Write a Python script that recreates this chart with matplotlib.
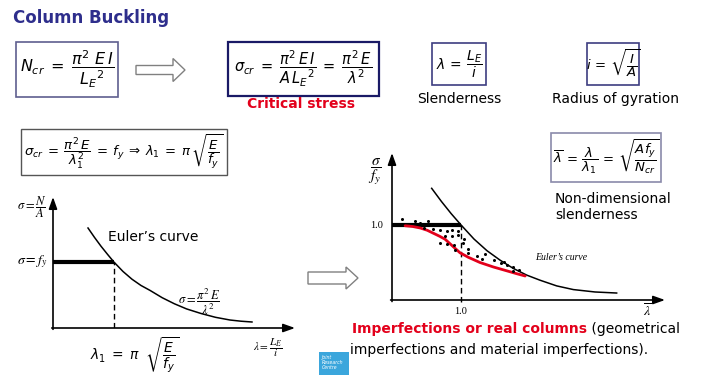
import matplotlib
matplotlib.use('Agg')
import matplotlib.pyplot as plt
from matplotlib.patches import Rectangle, Polygon

W, H = 713, 375

# ---------------- data ----------------
# Left chart: slenderness lambda/lambda1 vs sigma/fy
left_euler_x = [0.574, 0.680, 0.787, 0.893, 1.0, 1.148, 1.295, 1.443, 1.590, 1.790,
                1.990, 2.190, 2.426, 2.664, 2.902, 3.082, 3.262]
left_euler_y = [1.515, 1.373, 1.239, 1.117, 0.998, 0.856, 0.739, 0.644, 0.570, 0.459,
                0.367, 0.289, 0.220, 0.162, 0.121, 0.103, 0.091]
left_plateau_x = [0.0, 1.0]
left_plateau_y = [1.0, 1.0]

# Right chart: non-dimensional slenderness vs sigma/fy
right_euler_x = [0.575, 0.717, 0.858, 1.0, 1.188, 1.377, 1.565, 1.758, 1.952, 2.145,
                 2.387, 2.628, 2.942, 3.256]
right_euler_y = [1.489, 1.313, 1.151, 1.001, 0.813, 0.657, 0.532, 0.421, 0.332, 0.264,
                 0.188, 0.139, 0.107, 0.093]
right_plateau_x = [0.0, 1.0]
right_plateau_y = [1.0, 1.0]
red_x = [0.19, 0.30, 0.41, 0.51, 0.60, 0.69, 0.77, 0.865, 0.985, 1.105, 1.275, 1.47,
         1.66, 1.81, 1.93]
red_y = [0.99, 0.98, 0.96, 0.93, 0.89, 0.85, 0.81, 0.73, 0.63, 0.57, 0.50, 0.44,
         0.39, 0.35, 0.32]
test_x = [0.149, 0.333, 0.406, 0.526, 0.468, 0.599, 0.696, 0.793, 0.874, 0.952,
          0.768, 0.874, 0.961, 0.696, 0.793, 0.903, 0.913, 1.034, 1.048, 1.097,
          1.106, 1.227, 1.300, 1.348, 1.483, 1.58, 1.628, 1.662, 1.758, 1.758, 1.845]
test_y = [1.076, 1.053, 1.031, 1.053, 0.956, 0.943, 0.933, 0.924, 0.933, 0.924,
          0.853, 0.853, 0.867, 0.756, 0.747, 0.733, 0.667, 0.756, 0.809, 0.676,
          0.622, 0.587, 0.542, 0.613, 0.533, 0.489, 0.511, 0.467, 0.444, 0.39, 0.40]
tick_one = "1.0"

TITLE_C = '#2e2e8c'
RED = '#e3001b'

fig = plt.figure(figsize=(W / 100, H / 100), dpi=100)
fig.patch.set_facecolor('white')
bg = fig.add_axes([0, 0, 1, 1])
bg.set_xlim(0, W)
bg.set_ylim(H, 0)
bg.axis('off')


def chart_axes(x0, y0, ux, uy, xmax, ymax):
    ax = fig.add_axes([x0 / W, (H - y0) / H, xmax * ux / W, ymax * uy / H])
    ax.set_xlim(0, xmax)
    ax.set_ylim(0, ymax)
    ax.axis('off')
    ap = dict(arrowstyle='-|>,head_length=0.7,head_width=0.25', color='black',
              lw=1.2, shrinkA=0, shrinkB=0)
    ax.annotate('', xy=(xmax, 0), xytext=(-0.02, 0), arrowprops=ap, annotation_clip=False)
    ax.annotate('', xy=(0, ymax), xytext=(0, -0.02), arrowprops=ap, annotation_clip=False)
    return ax


def box(x, y, w, h, ec, lw=1.2):
    bg.add_patch(Rectangle((x, y), w, h, fill=False, ec=ec, lw=lw))


def hollow_arrow(x0, xb, xt, yc, sh, hh):
    pts = [(x0, yc - sh), (xb, yc - sh), (xb, yc - hh), (xt, yc), (xb, yc + hh),
           (xb, yc + sh), (x0, yc + sh)]
    bg.add_patch(Polygon(pts, closed=True, fc='white', ec='#808080', lw=1.0))


# ---------------- header ----------------
bg.text(13, 18, 'Column Buckling', fontsize=12, fontweight='bold', color=TITLE_C,
        ha='left', va='center')

box(16, 42, 102, 55, '#5f5f8f')
bg.text(67, 69, r'$N_{cr}\;=\;\dfrac{\pi^2\ E\,I}{{L_E}^{2}}$', fontsize=11.5,
        ha='center', va='center')

hollow_arrow(136, 173, 185, 70, 4.5, 11.5)

box(228, 42, 151, 54, '#1a1a66', lw=1.6)
bg.text(303, 69, r'$\sigma_{cr}\;=\;\dfrac{\pi^2\,E\,I}{A\,{L_E}^{2}}\;=\;\dfrac{\pi^2\,E}{\lambda^2}$',
        fontsize=10.5, ha='center', va='center')
bg.text(301, 104, 'Critical stress', fontsize=10, fontweight='bold', color=RED,
        ha='center', va='center')

box(432, 43, 54, 42, '#3d3d80')
bg.text(459, 64, r'$\lambda\,=\,\dfrac{L_E}{i}$', fontsize=10, ha='center', va='center')
bg.text(459, 99, 'Slenderness', fontsize=10, ha='center', va='center')

box(587, 43, 52, 42, '#3d3d80')
bg.text(613, 64, r'$i\,=\,\sqrt{\dfrac{I}{A}}$', fontsize=9.5, ha='center', va='center')
bg.text(616, 99, 'Radius of gyration', fontsize=10, ha='center', va='center')

box(21, 129, 206, 46, '#555555', lw=1.0)
bg.text(124, 152, r'$\sigma_{cr}\:=\:\dfrac{\pi^2\,E}{\lambda_1^2}\:=\:f_y\:\Rightarrow\:\lambda_1\:=\:\pi\,\sqrt{\dfrac{E}{f_y}}$',
        fontsize=9.5, ha='center', va='center')

box(551, 133, 110, 49, '#8a8aaa')
bg.text(606, 157, r'$\overline{\lambda}\,=\,\dfrac{\lambda}{\lambda_1}\,=\,\sqrt{\dfrac{A f_y}{N_{cr}}}$',
        fontsize=9.5, ha='center', va='center')
bg.text(555, 199, 'Non-dimensional', fontsize=10, ha='left', va='center')
bg.text(555, 215, 'slenderness', fontsize=10, ha='left', va='center')

# ---------------- left chart ----------------
axl = chart_axes(53, 328, 61, 66, (295 - 53) / 61, (328 - 197) / 66)
axl.plot(left_euler_x, left_euler_y, color='black', lw=1.1, clip_on=False)
axl.plot(left_plateau_x, left_plateau_y, color='black', lw=3.0, solid_capstyle='butt')
axl.plot([left_plateau_x[1]] * 2, [0, left_plateau_y[1]], color='black', lw=1.0, ls=(0, (4, 2.5)))

bg.text(17, 207, r'$\sigma = \dfrac{N}{A}$', fontsize=9, math_fontfamily='stix', ha='left', va='center')
bg.text(17, 262, r'$\sigma = f_y$', fontsize=10, math_fontfamily='stix', ha='left', va='center')
bg.text(108, 237, 'Euler\u2019s curve', fontsize=10, ha='left', va='center')
bg.text(178, 302, r'$\sigma = \dfrac{\pi^2\,E}{\lambda^2}$', fontsize=9, math_fontfamily='stix',
        ha='left', va='center')
bg.text(90, 355, r'$\lambda_1\;=\;\pi\;\;\sqrt{\dfrac{E}{f_y}}$', fontsize=10, ha='left', va='center')
bg.text(253, 348, r'$\lambda = \dfrac{L_E}{i}$', fontsize=8, math_fontfamily='stix',
        ha='left', va='center')

hollow_arrow(308, 346, 358, 278, 6, 11)

# ---------------- right chart ----------------
axr = chart_axes(392, 300, 69, 75, (665 - 392) / 69, (300 - 153) / 75)
axr.plot(right_euler_x, right_euler_y, color='black', lw=1.1, clip_on=False)
axr.plot(right_plateau_x, right_plateau_y, color='black', lw=3.0, solid_capstyle='butt')
axr.plot([right_plateau_x[1]] * 2, [-0.03, right_plateau_y[1]], color='black', lw=1.0,
         ls=(0, (4, 2.5)), clip_on=False)
axr.plot(red_x, red_y, color=RED, lw=2.0, solid_capstyle='round')
axr.plot(test_x, test_y, ls='none', marker='o', ms=2.2, color='black', mec='none')

bg.text(377, 225, tick_one, fontsize=7.5, family='Liberation Serif', ha='center', va='center')
bg.text(461, 311, tick_one, fontsize=7.5, family='Liberation Serif', ha='center', va='center')
bg.text(375, 172, r'$\dfrac{\sigma}{f_y}$', fontsize=11, math_fontfamily='stix', ha='center', va='center')
bg.text(647, 311, r'$\overline{\lambda}$', fontsize=10, math_fontfamily='stix', ha='center', va='center')
bg.text(535, 258, 'Euler\u2019s curve', fontsize=7, family='Liberation Serif', style='italic',
        ha='left', va='center')

# ---------------- bottom text ----------------
t1 = bg.text(352, 329, 'Imperfections or real columns', fontsize=10, fontweight='bold',
             color=RED, ha='left', va='center')
bg.annotate(' (geometrical', xy=(1, 0.5), xycoords=t1, fontsize=10, ha='left', va='center')
bg.text(350, 350, 'imperfections and material imperfections).', fontsize=10, ha='left', va='center')

bg.add_patch(Rectangle((319, 352), 30, 23, fc='#3ba6dc', ec='none'))
bg.text(322, 355, 'Joint\nResearch\nCentre', fontsize=3.3, color='white', style='italic',
        ha='left', va='top', linespacing=1.0)

fig.savefig('out.png', dpi=100)
